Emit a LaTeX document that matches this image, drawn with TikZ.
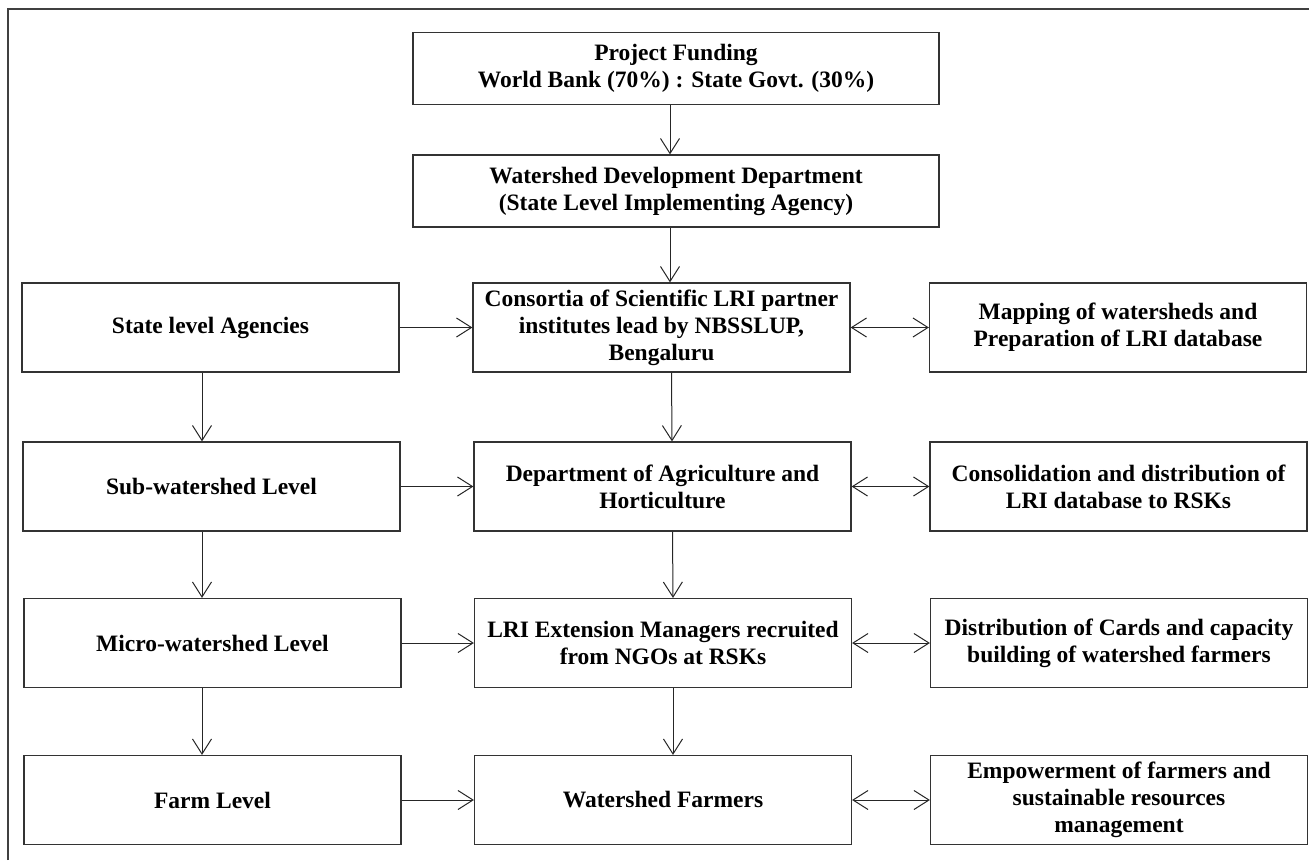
\documentclass[tikz,border=0pt]{standalone}
\usepackage{fontspec}
\setmainfont{Liberation Serif}
\usetikzlibrary{positioning,arrows.meta,calc}

\begin{document}
\begin{tikzpicture}[x=1pt, y=-1pt, >={Straight Barb[length=15pt,width=19pt]},
   b/.style={draw=black!80, line width=1.2pt, align=center, minimum width=377pt, minimum height=89pt, inner sep=1pt,
             font=\bfseries\fontsize{23.5}{27}\selectfont},
   top/.style={b, minimum width=526pt, minimum height=72pt},
   con/.style={line width=1pt, black!85}]
  \useasboundingbox (0,0) rectangle (1309,860);
  % frame
  \draw[line width=1.8pt, black!75] (8,860) -- (8,9) -- (1309,9);
  % top of the chain
  \node[top] (fund) at (676,68.5) {Project Funding\\World Bank (70\%) : State Govt. (30\%)};
  \node[top] (wdd) at (676,191) {Watershed Development Department\\(State Level Implementing Agency)};
  % left column
  \node[b] (state) at (210.5,327.5) {State level Agencies};
  \node[b] (sub) at (211.5,486.5) {Sub-watershed Level};
  \node[b] (micro) at (212.5,643) {Micro-watershed Level};
  \node[b] (farm) at (212.5,800) {Farm Level};
  % middle column
  \node[b] (cons) at (661.5,327.5) {Consortia of Scientific LRI partner\\institutes lead by NBSSLUP,\\Bengaluru};
  \node[b] (dept) at (662.5,486.5) {Department of Agriculture and\\Horticulture};
  \node[b] (ext) at (663,643) {LRI Extension Managers recruited\\from NGOs at RSKs};
  \node[b] (farmers) at (663,800) {Watershed Farmers};
  % right column
  \node[b] (map) at (1118,327.5) {Mapping of watersheds and\\Preparation of LRI database};
  \node[b] (consol) at (1118.5,486.5) {Consolidation and distribution of\\LRI database to RSKs};
  \node[b] (dist) at (1119,643) {Distribution of Cards and capacity\\building of watershed farmers};
  \node[b] (emp) at (1119,800) {Empowerment of farmers and\\sustainable resources\\management};
  % vertical links
  \draw[->,con] ([xshift=-6pt]fund.south) -- ([xshift=-6pt]wdd.north);
  \draw[->,con] ([xshift=-6pt]wdd.south) -- ([xshift=8.5pt]cons.north);
  \draw[->,con] ([xshift=10pt]cons.south) -- ([xshift=9.5pt]dept.north);
  \draw[->,con] ([xshift=10pt]dept.south) -- ([xshift=10pt]ext.north);
  \draw[->,con] ([xshift=10pt]ext.south) -- ([xshift=10pt]farmers.north);
  \draw[->,con] ([xshift=-8.5pt]state.south) -- ([xshift=-9.5pt]sub.north);
  \draw[->,con] ([xshift=-9.5pt]sub.south) -- ([xshift=-10.5pt]micro.north);
  \draw[->,con] ([xshift=-10.5pt]micro.south) -- ([xshift=-10.5pt]farm.north);
  % horizontal links
  \draw[->,con] (state) -- (cons);
  \draw[->,con] (sub) -- (dept);
  \draw[->,con] (micro) -- (ext);
  \draw[->,con] (farm) -- (farmers);
  \draw[<->,con] (cons) -- (map);
  \draw[<->,con] (dept) -- (consol);
  \draw[<->,con] (ext) -- (dist);
  \draw[<->,con] (farmers) -- (emp);
\end{tikzpicture}
\end{document}
